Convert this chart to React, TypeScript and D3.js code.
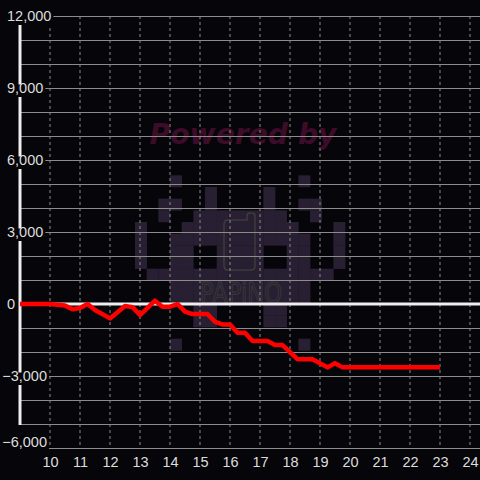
import React, { useEffect, useRef } from "react";
import * as d3 from "d3";

const hours = [9, 10, 10.25, 10.5, 10.75, 11, 11.25, 11.5, 12, 12.5, 12.75, 13, 13.5, 13.75, 14, 14.25, 14.5, 14.75, 15.25, 15.5, 15.75, 16, 16.25, 16.5, 16.75, 17.25, 17.5, 17.75, 18.25, 18.75, 19.25, 19.5, 19.75, 23];
const pnl = [0, 0, -30, -60, -220, -170, 0, -250, -600, -80, -130, -460, 140, -110, -110, 0, -320, -420, -420, -740, -850, -850, -1200, -1200, -1540, -1540, -1710, -1710, -2300, -2300, -2640, -2470, -2640, -2640];
const xTicks = [10, 11, 12, 13, 14, 15, 16, 17, 18, 19, 20, 21, 22, 23, 24];
const yLabelTicks = [12000, 9000, 6000, 3000, 0, -3000, -6000];
const yGridTicks = d3.range(-6000, 12001, 1000);

const invader = [
  "...#..........#...",
  "......#....#......",
  "..##..#....#..##..",
  "..#..########..#..",
  "#...##########...#",
  "#..############..#",
  "#..##..####..##..#",
  "#..##..####..##..#",
  ".################.",
  "...############...",
  "...############...",
  ".....##....##.....",
  ".....##....##.....",
  "..................",
  "...#..........#...",
];

const BG = "#060509";
const W = 480, H = 480;

export default function App() {
  const ref = useRef<SVGSVGElement>(null);
  useEffect(() => {
    const svg = d3.select(ref.current);
    svg.selectAll("*").remove();
    const x = d3.scaleLinear().domain([9, 24 + 1 / 3]).range([20, 480]);
    const y = d3.scaleLinear().domain([-6000, 12000]).range([448, 16]);

    svg.append("rect").attr("width", W).attr("height", H).attr("fill", BG);

    // watermark
    const wm = svg.append("g");
    wm.append("text")
      .attr("x", 243).attr("y", 144)
      .attr("text-anchor", "middle")
      .attr("font-family", "DejaVu Sans").attr("font-weight", "bold").attr("font-style", "italic")
      .attr("font-size", 28).attr("textLength", 187).attr("lengthAdjust", "spacingAndGlyphs")
      .attr("fill", "#3c0c28").text("Powered by");
    const b = 11.67, ox = 135, oy = 175.3;
    invader.forEach((row, r) => {
      row.split("").forEach((c, ci) => {
        if (c === "#") {
          wm.append("rect").attr("x", ox + ci * b).attr("y", oy + r * b)
            .attr("width", b + 0.3).attr("height", b + 0.3).attr("fill", "#281f33");
        }
      });
    });
    wm.append("path")
      .attr("d", "M 228 220 H 247 V 216 Q 247 213 250 213 H 252 Q 255 213 255 216 V 266 Q 255 270 251 270 H 228 Q 224 270 224 266 V 224 Q 224 220 228 220 Z")
      .attr("fill", "none").attr("stroke", "#3d3d3d").attr("stroke-width", 1.5);
    wm.append("text")
      .attr("x", 200).attr("y", 303)
      .attr("font-family", "DejaVu Sans").attr("font-size", 28)
      .attr("textLength", 82).attr("lengthAdjust", "spacingAndGlyphs")
      .attr("fill", "none").attr("stroke", "#3a3a3a").attr("stroke-width", 1)
      .text("PAPiNO");

    // grid
    svg.append("g").selectAll("line").data(xTicks).join("line")
      .attr("x1", (d) => x(d)).attr("x2", (d) => x(d))
      .attr("y1", y(12000)).attr("y2", y(-6000))
      .attr("stroke", "#8c8c8c").attr("stroke-width", 1).attr("stroke-dasharray", "3,3");
    svg.append("g").selectAll("line").data(yGridTicks.filter((d) => d !== 0)).join("line")
      .attr("x1", 20).attr("x2", W)
      .attr("y1", (d) => Math.round(y(d)) + 0.5).attr("y2", (d) => Math.round(y(d)) + 0.5)
      .attr("stroke", "#8c8c8c").attr("stroke-width", 1);

    // axis lines
    svg.append("line").attr("x1", 20).attr("x2", W).attr("y1", y(0)).attr("y2", y(0))
      .attr("stroke", "#eeeeee").attr("stroke-width", 3);
    svg.append("line").attr("x1", 20).attr("x2", 20).attr("y1", 24).attr("y2", 425)
      .attr("stroke", "#eeeeee").attr("stroke-width", 3);

    // y labels with background boxes
    const fmt = d3.format(",");
    const gy = svg.append("g");
    yLabelTicks.forEach((t) => {
      const cy = Math.min(y(t), 442);
      const g = gy.append("g");
      const rect = g.append("rect").attr("fill", BG);
      const txt = g.append("text")
        .attr("x", t < 0 ? 2.2 : 7).attr("y", cy + 5.3)
        .attr("font-family", "Liberation Sans").attr("font-size", 14.5)
        .attr("fill", "#dddddd").text(fmt(t));
      const bb = (txt.node() as SVGTextElement).getBBox();
      rect.attr("x", bb.x - 1).attr("y", cy - 3.5)
        .attr("width", bb.width + 3).attr("height", 12.5);
    });

    // x labels
    svg.append("g").selectAll("text").data(xTicks).join("text")
      .attr("x", (d) => x(d) + 0.5).attr("y", 466.5)
      .attr("text-anchor", "middle")
      .attr("font-family", "Liberation Sans").attr("font-size", 14.5)
      .attr("fill", "#dddddd").text((d) => String(d));

    // series
    const line = d3.line<number>().x((d, i) => x(hours[i])).y((d) => y(d));
    svg.append("path").attr("d", line(pnl) as string)
      .attr("fill", "none").attr("stroke", "#ff0000").attr("stroke-width", 4.5)
      .attr("stroke-linejoin", "round");
  }, []);
  return (
    <svg ref={ref} width={W} height={H}
      style={{ position: "fixed", left: 0, top: 0, display: "block" }} />
  );
}
